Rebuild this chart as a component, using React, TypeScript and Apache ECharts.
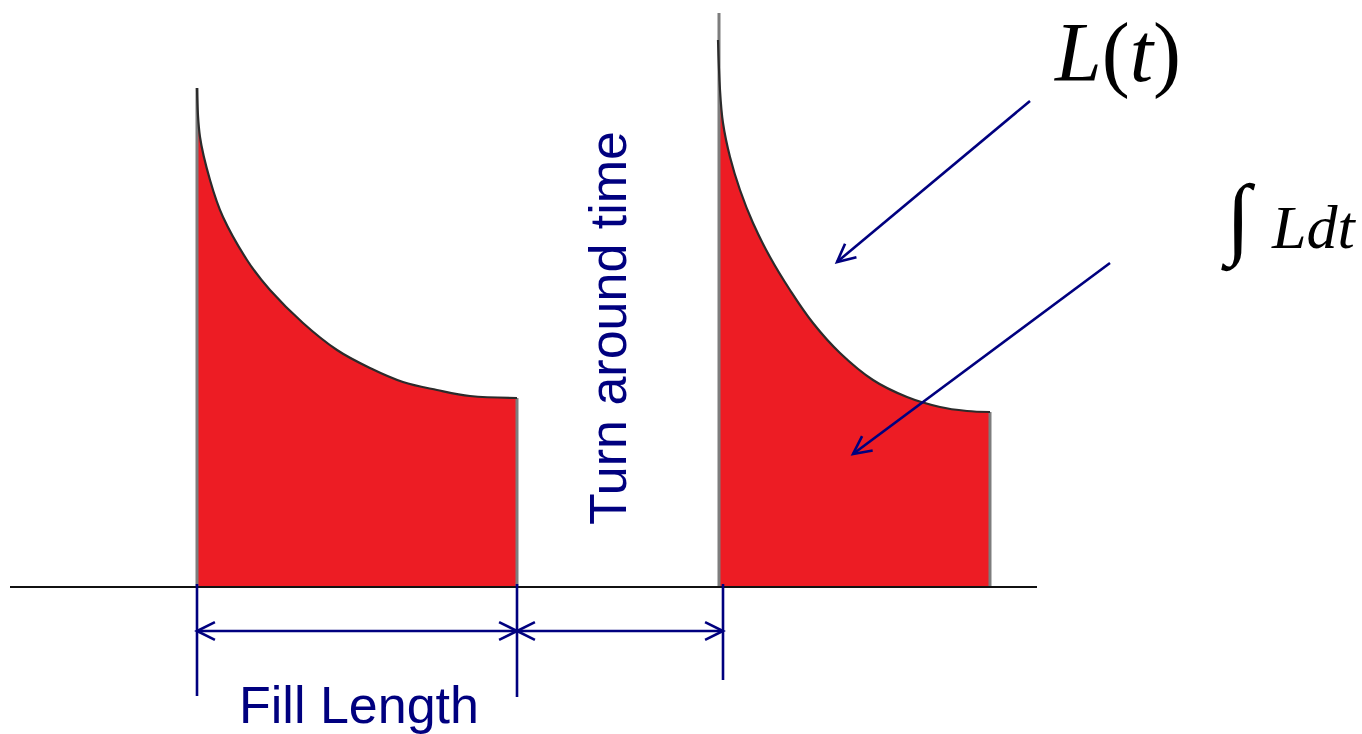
import React, { useEffect, useRef } from "react";
import * as echarts from "echarts";

// ---- data (time units, luminosity units; baseline L = 0) ----
const fill1Time = [197, 200, 210, 223, 247, 270, 303, 337, 370, 403, 437, 470, 517];
const fill1Lumi = [499, 450, 407, 370, 327, 297, 264, 237, 219, 205, 197, 191, 189];

const fill2Time = [718, 720, 723, 730, 740, 753, 770, 790, 813, 840, 873, 907, 940, 967, 990];
const fill2Lumi = [547, 497, 464, 430, 397, 364, 330, 297, 264, 234, 207, 190, 180, 176, 175];

// vertical edges of the fills: [t, Ltop]
const edgeTimes = [197, 517, 719, 990];
const edgeTops = [499, 189, 574, 175];

// time axis baseline extent
const baselineTimes = [10, 1037];

// dimension ticks: [t, Ltop, Lbottom]
const tickTimes = [197, 517, 723];
const tickTops = [3, 3, 3];
const tickBottoms = [-109, -110, -93];

// arrows: [t1, L1, t2, L2, heads(1 = end, 2 = both)]
const arrowStartT = [197, 517, 1030, 1110];
const arrowStartL = [-44, -44, 486, 324];
const arrowEndT = [517, 723, 837, 853];
const arrowEndL = [-44, -44, 325, 133];
const arrowHeads = [2, 2, 1, 1];

const RED = "#ED1C24";
const NAVY = "#00007F";
const CURVE = "#2b2b2b";
const EDGE = "#7d7d7d";

export default function App() {
  const ref = useRef<HTMLDivElement>(null);

  useEffect(() => {
    document.body.style.margin = "0";
    const chart = echarts.init(ref.current!, undefined, { renderer: "svg" });

    const fill1 = fill1Time.map((t, i) => [t, fill1Lumi[i]]);
    const fill2 = fill2Time.map((t, i) => [t, fill2Lumi[i]]);

    const edgeSeries = edgeTimes.map((t, i) => ({
      type: "line",
      data: [
        [t, 0],
        [t, edgeTops[i]],
      ],
      symbol: "none",
      lineStyle: { color: EDGE, width: 3 },
      z: 3,
      silent: true,
    }));

    const segs: number[][] = [];
    tickTimes.forEach((t, i) => segs.push([t, tickTops[i], t, tickBottoms[i], 0]));
    arrowStartT.forEach((t, i) =>
      segs.push([t, arrowStartL[i], arrowEndT[i], arrowEndL[i], arrowHeads[i]])
    );

    const areaCurve = (data: number[][]) => ({
      type: "line",
      data,
      smooth: 0.35,
      symbol: "none",
      lineStyle: { color: CURVE, width: 2.2 },
      areaStyle: { color: RED, opacity: 1, origin: 0 },
      z: 4,
      silent: true,
    });

    chart.setOption({
      animation: false,
      grid: { left: 0, right: 0, top: 0, bottom: 0, containLabel: false },
      xAxis: { type: "value", min: 0, max: 1362, show: false },
      yAxis: { type: "value", min: -147, max: 587, show: false },
      series: [
        { ...areaCurve(fill1), z: 2, lineStyle: { width: 0 } },
        { ...areaCurve(fill2), z: 2, lineStyle: { width: 0 } },
        ...edgeSeries,
        { ...areaCurve(fill1), areaStyle: undefined },
        { ...areaCurve(fill2), areaStyle: undefined },
        {
          type: "line",
          data: baselineTimes.map((t) => [t, 0]),
          symbol: "none",
          lineStyle: { color: "#111", width: 2.2 },
          z: 5,
          silent: true,
        },
        {
          type: "custom",
          data: segs,
          clip: false,
          z: 6,
          silent: true,
          renderItem: (_params: any, api: any) => {
            const p1 = api.coord([api.value(0), api.value(1)]);
            const p2 = api.coord([api.value(2), api.value(3)]);
            const heads = api.value(4);
            const style = { stroke: NAVY, lineWidth: 2.6, fill: "none" };
            const children: any[] = [
              { type: "line", shape: { x1: p1[0], y1: p1[1], x2: p2[0], y2: p2[1] }, style },
            ];
            const head = (tip: number[], from: number[]) => {
              const a = Math.atan2(from[1] - tip[1], from[0] - tip[0]);
              const len = 20;
              const spread = 0.46;
              return {
                type: "polyline",
                shape: {
                  points: [
                    [tip[0] + len * Math.cos(a + spread), tip[1] + len * Math.sin(a + spread)],
                    tip,
                    [tip[0] + len * Math.cos(a - spread), tip[1] + len * Math.sin(a - spread)],
                  ],
                },
                style,
              };
            };
            if (heads >= 1) children.push(head(p2, p1));
            if (heads >= 2) children.push(head(p1, p2));
            return { type: "group", children };
          },
        },
      ],
      graphic: [
        {
          type: "text",
          x: 1055,
          y: 94,
          style: {
            text: "{i|L}{n|(}{i|t}{n|)}",
            textVerticalAlign: "bottom",
            rich: {
              i: { fontFamily: "Liberation Serif", fontStyle: "italic", fontSize: 84, fill: "#000" },
              n: { fontFamily: "Liberation Serif", fontSize: 84, fill: "#000" },
            },
          },
        },
        {
          type: "text",
          x: 1238,
          y: 216,
          style: {
            text: "∫",
            font: "90px 'Liberation Serif'",
            fill: "#000",
            textAlign: "center",
            textVerticalAlign: "middle",
          },
        },
        {
          type: "text",
          x: 1272,
          y: 227,
          style: {
            text: "Ldt",
            font: "italic 62px 'Liberation Serif'",
            fill: "#000",
            textVerticalAlign: "middle",
          },
        },
        {
          type: "text",
          x: 608,
          y: 328,
          rotation: Math.PI / 2,
          style: {
            text: "Turn around time",
            font: "52px 'Liberation Sans'",
            fill: NAVY,
            textAlign: "center",
            textVerticalAlign: "middle",
          },
        },
        {
          type: "text",
          x: 359,
          y: 705,
          style: {
            text: "Fill Length",
            font: "52px 'Liberation Sans'",
            fill: NAVY,
            textAlign: "center",
            textVerticalAlign: "middle",
          },
        },
      ],
    });

    return () => chart.dispose();
  }, []);

  return (
    <div
      ref={ref}
      style={{ position: "absolute", left: 0, top: 0, width: 1362, height: 734, background: "#fff" }}
    />
  );
}
